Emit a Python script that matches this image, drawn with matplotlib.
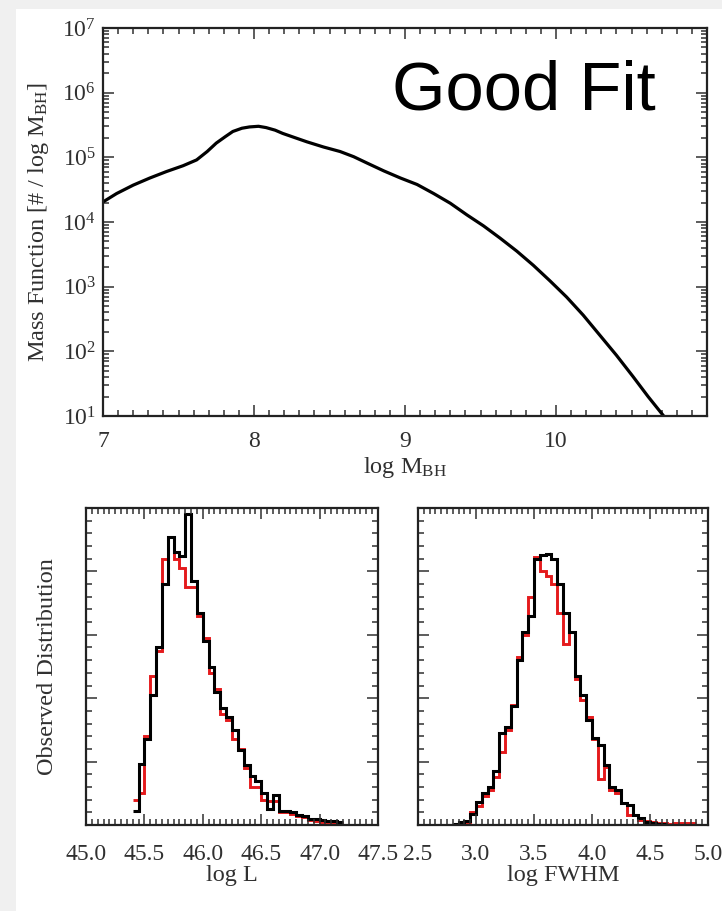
import numpy as np
import matplotlib.pyplot as plt
from matplotlib.ticker import MultipleLocator, LogLocator, LogFormatterMathtext, NullFormatter
from matplotlib.patches import Rectangle

plt.rcParams['font.family'] = 'Liberation Serif'
plt.rcParams['mathtext.fontset'] = 'custom'
plt.rcParams['mathtext.rm'] = 'Liberation Serif'
plt.rcParams['mathtext.it'] = 'Liberation Serif:italic'

INK = '#303030'

# best-fit black hole mass function, log10 values
log_mbh = [7.0, 7.09, 7.2, 7.31, 7.42, 7.53, 7.62, 7.69, 7.75, 7.81, 7.86, 7.92,
           7.97, 8.03, 8.08, 8.14, 8.19, 8.35, 8.46, 8.57, 8.66, 8.75, 8.86, 8.97,
           9.08, 9.19, 9.30, 9.41, 9.52, 9.63, 9.74, 9.85, 9.96, 10.07, 10.18,
           10.29, 10.40, 10.51, 10.61, 10.72]
log_phi = [4.31, 4.44, 4.57, 4.68, 4.78, 4.87, 4.96, 5.09, 5.22, 5.32, 5.40, 5.45,
           5.47, 5.48, 5.46, 5.42, 5.37, 5.24, 5.16, 5.09, 5.01, 4.91, 4.79, 4.68,
           4.58, 4.44, 4.29, 4.11, 3.94, 3.75, 3.55, 3.33, 3.09, 2.84, 2.56,
           2.25, 1.94, 1.61, 1.30, 0.98]

# observed vs. model luminosity distribution (0.05 dex bins starting at 45.40)
lum_start, lum_width = 45.40, 0.05
lum_obs = [0.22, 0.97, 1.35, 2.05, 2.80, 3.80, 4.55, 4.30, 4.25, 4.90, 3.85, 3.35,
           2.90, 2.50, 2.10, 1.85, 1.70, 1.50, 1.18, 0.95, 0.78, 0.70, 0.50, 0.26,
           0.47, 0.22, 0.22, 0.20, 0.16, 0.14, 0.10, 0.10, 0.08, 0.06, 0.06, 0.05]
lum_model = [0.40, 0.50, 1.40, 2.35, 2.75, 4.20, 4.55, 4.20, 4.05, 3.75, 3.75, 3.30,
             2.95, 2.40, 2.15, 1.75, 1.65, 1.35, 1.20, 0.90, 0.60, 0.60, 0.40, 0.38,
             0.38, 0.20, 0.20, 0.18, 0.14, 0.12, 0.08, 0.06, 0.05, 0.04, 0.03, 0.03]

# observed vs. model line width distribution (0.05 dex bins starting at 2.80)
fwhm_start, fwhm_width = 2.80, 0.05
fwhm_obs = [0.02, 0.05, 0.07, 0.17, 0.37, 0.50, 0.60, 0.85, 1.45, 1.55, 1.87, 2.60,
            3.05, 3.30, 4.20, 4.26, 4.28, 4.20, 3.80, 3.35, 3.05, 2.35, 2.05, 1.66,
            1.37, 1.26, 0.95, 0.60, 0.55, 0.34, 0.32, 0.16, 0.11, 0.05, 0.03, 0.02, 0.02]
fwhm_model = [0.00, 0.02, 0.05, 0.20, 0.30, 0.45, 0.55, 0.75, 1.15, 1.50, 1.90, 2.65,
              3.00, 3.60, 4.23, 4.00, 3.93, 3.80, 3.35, 2.85, 3.05, 2.30, 1.97, 1.70,
              1.35, 0.72, 0.92, 0.55, 0.50, 0.34, 0.15, 0.15, 0.08, 0.06, 0.04, 0.03,
              0.03, 0.02, 0.03, 0.03, 0.03, 0.03]


def style_axes(ax, xpad=9):
    ax.tick_params(which='both', direction='in', top=True, right=True,
                   labelsize=17, colors=INK, width=1.1)
    ax.tick_params(which='major', length=8)
    ax.tick_params(which='minor', length=4)
    ax.tick_params(axis='x', pad=xpad)
    ax.tick_params(axis='y', pad=6)
    for sp in ax.spines.values():
        sp.set_linewidth(1.6)
        sp.set_color('#222222')


fig = plt.figure(figsize=(7.22, 9.11), dpi=100)

# grey page margin along the top and left
fig.patches.append(Rectangle((0, 0), 16 / 722, 1, transform=fig.transFigure,
                             facecolor='#f0f0f0', edgecolor='none', zorder=-10))
fig.patches.append(Rectangle((0, 1 - 9 / 911), 1, 9 / 911, transform=fig.transFigure,
                             facecolor='#f0f0f0', edgecolor='none', zorder=-10))

# --- mass function ---
ax = fig.add_axes([103 / 722, 1 - 416 / 911, 604 / 722, 388 / 911])
ax.semilogy(log_mbh, 10 ** np.array(log_phi), color='black', lw=2.3)
ax.set_xlim(7, 11)
ax.set_ylim(10, 1e7)
ax.set_xticks([7, 8, 9, 10])
ax.xaxis.set_minor_locator(MultipleLocator(0.1))
ax.yaxis.set_major_locator(LogLocator(base=10, numticks=10))
ax.yaxis.set_major_formatter(LogFormatterMathtext())
ax.yaxis.set_minor_locator(LogLocator(base=10, subs=np.arange(2, 10), numticks=20))
ax.yaxis.set_minor_formatter(NullFormatter())
style_axes(ax, xpad=11)
ax.tick_params(axis='y', pad=5)
ax.set_xlabel(r'log M$_{\rm BH}$', fontsize=17.5, color=INK, labelpad=2)
ax.set_ylabel(r'Mass Function [# / log M$_{\rm BH}$]', fontsize=17.5, color=INK, labelpad=8)
fig.text(392 / 722, 1 - 110 / 911, 'Good Fit', fontsize=49.5,
         family='Liberation Sans', color='black', va='baseline')

# --- luminosity distribution ---
ax_l = fig.add_axes([86 / 722, 1 - 825 / 911, 292 / 722, 317 / 911])
lum_edges = lum_start + lum_width * np.arange(len(lum_obs) + 1)
ax_l.stairs(lum_model, lum_edges, color='#e41a1c', lw=2.1, baseline=None)
ax_l.stairs(lum_obs, lum_edges, color='black', lw=2.2, baseline=None)
ax_l.set_xlim(45.0, 47.5)
ax_l.set_ylim(0, 5)
ax_l.xaxis.set_major_locator(MultipleLocator(0.5))
ax_l.xaxis.set_minor_locator(MultipleLocator(0.05))
ax_l.xaxis.set_major_formatter(lambda v, p: f'{v:.1f}')
ax_l.yaxis.set_major_locator(MultipleLocator(1))
ax_l.yaxis.set_minor_locator(MultipleLocator(0.2))
ax_l.yaxis.set_major_formatter(NullFormatter())
style_axes(ax_l, xpad=14)
ax_l.set_xlabel('log L', fontsize=17.5, color=INK, labelpad=0)
ax_l.set_ylabel('Observed Distribution', fontsize=17.5, color=INK, labelpad=14)

# --- line width distribution ---
ax_r = fig.add_axes([418 / 722, 1 - 825 / 911, 290 / 722, 317 / 911])
fwhm_edges_obs = fwhm_start + fwhm_width * np.arange(len(fwhm_obs) + 1)
fwhm_edges_mod = fwhm_start + fwhm_width * np.arange(len(fwhm_model) + 1)
ax_r.stairs(fwhm_model, fwhm_edges_mod, color='#e41a1c', lw=2.1, baseline=None)
ax_r.stairs(fwhm_obs, fwhm_edges_obs, color='black', lw=2.2, baseline=None)
ax_r.set_xlim(2.5, 5.0)
ax_r.set_ylim(0, 5)
ax_r.xaxis.set_major_locator(MultipleLocator(0.5))
ax_r.xaxis.set_minor_locator(MultipleLocator(0.05))
ax_r.xaxis.set_major_formatter(lambda v, p: f'{v:.1f}')
ax_r.yaxis.set_major_locator(MultipleLocator(1))
ax_r.yaxis.set_minor_locator(MultipleLocator(0.2))
ax_r.yaxis.set_major_formatter(NullFormatter())
style_axes(ax_r, xpad=14)
ax_r.set_xlabel('log FWHM', fontsize=17.5, color=INK, labelpad=0)

fig.savefig('out.png', dpi=100)
